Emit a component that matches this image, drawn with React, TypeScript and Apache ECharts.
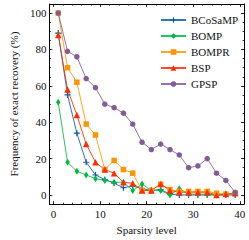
import React, { useEffect, useRef } from "react";
import * as echarts from "echarts";

const sparsity = [1, 3, 5, 7, 9, 11, 13, 15, 17, 19, 21, 23, 25, 27, 29, 31, 33, 35, 37, 39];
const bcosamp = [89, 55, 34, 18, 11, 8.5, 6.5, 4, 5, 3.5, 2.5, 3, 0.5, 0, 0, 0, 0, 0, 0, 0];
const bomp = [51, 18, 13, 11, 9, 8, 7, 7, 2.5, 6, 2.5, 2.5, 0, 3.5, 0.5, 0.5, 0.5, 0, 0.5, 0.5];
const bompr = [100, 70, 62, 39, 33, 14, 19, 14, 12, 2.5, 2.5, 6, 3, 2, 2, 2, 2, 1, 0.5, 1];
const bsp = [88, 58, 44, 28, 18, 14, 12, 7, 6.5, 2.5, 2.5, 6, 2.5, 1.5, 1.5, 1.5, 1.5, 0, 0.5, 1];
const gpsp = [100, 79, 76, 64, 59, 50, 48, 45, 39, 29, 25, 28, 25, 22, 15, 16, 20, 12, 8, 1.5];

const xMajor = [0, 10, 20, 30, 40];
const xMinor = [0, 2, 4, 6, 8, 10, 12, 14, 16, 18, 20, 22, 24, 26, 28, 30, 32, 34, 36, 38, 40];
const yMajor = [0, 20, 40, 60, 80, 100];
const yMinor = [0, 5, 10, 15, 20, 25, 30, 35, 40, 45, 50, 55, 60, 65, 70, 75, 80, 85, 90, 95, 100];

const FONT = '"Liberation Serif", "DejaVu Serif", serif';
const X_MIN = -0.9, X_MAX = 40.9, Y_MIN = -5, Y_MAX = 105;
const TXT = { color: "#111", fontSize: 11, fontFamily: FONT, fontWeight: "normal" as const };

function xAxisDef(position: "top" | "bottom", ticks: number[], len: number, labels: boolean, line: boolean) {
  return {
    type: "value", position, min: X_MIN, max: X_MAX,
    splitLine: { show: false },
    axisLine: { show: line, onZero: false, lineStyle: { color: "#000", width: 1 } },
    axisTick: { show: true, inside: true, length: len, customValues: ticks, lineStyle: { color: "#000", width: 0.8 } },
    axisLabel: labels ? { show: true, customValues: xMajor, margin: 4, ...TXT } : { show: false },
    ...(labels
      ? { name: "Sparsity level", nameLocation: "middle", nameGap: 15, nameTextStyle: { ...TXT } }
      : {}),
  };
}

function yAxisDef(position: "left" | "right", ticks: number[], len: number, labels: boolean, line: boolean) {
  return {
    type: "value", position, min: Y_MIN, max: Y_MAX,
    splitLine: { show: false },
    axisLine: { show: line, onZero: false, lineStyle: { color: "#000", width: 1 } },
    axisTick: { show: true, inside: true, length: len, customValues: ticks, lineStyle: { color: "#000", width: 0.8 } },
    axisLabel: labels ? { show: true, customValues: yMajor, margin: 3, ...TXT } : { show: false },
    ...(labels
      ? { name: "Frequency of exact recovery (%)", nameLocation: "middle", nameGap: 20, nameTextStyle: { ...TXT } }
      : {}),
  };
}

function mkSeries(name: string, data: number[], color: string, symbol: string, size: any) {
  return {
    name, type: "line",
    data: sparsity.map((x, i) => [x, data[i]]),
    xAxisIndex: 0, yAxisIndex: 0,
    symbol, symbolSize: size, showSymbol: true,
    lineStyle: { color, width: 1, opacity: 0.85 },
    itemStyle: { color, opacity: 1 },
    emphasis: { disabled: true },
  };
}

export default function App() {
  const ref = useRef<HTMLDivElement>(null);
  useEffect(() => {
    if (!ref.current) return;
    const chart = echarts.init(ref.current, undefined, { renderer: "svg" });
    chart.setOption({
      animation: false,
      backgroundColor: "#fff",
      textStyle: { fontFamily: FONT, fontWeight: "normal" },
      grid: { left: 34, right: 5, top: 4, bottom: 26, containLabel: false },
      xAxis: [
        xAxisDef("bottom", xMajor, 3, true, true),
        xAxisDef("bottom", xMinor, 1.5, false, false),
        xAxisDef("top", xMajor, 3, false, true),
        xAxisDef("top", xMinor, 1.5, false, false),
      ],
      yAxis: [
        yAxisDef("left", yMajor, 3, true, true),
        yAxisDef("left", yMinor, 1.5, false, false),
        yAxisDef("right", yMajor, 3, false, true),
        yAxisDef("right", yMinor, 1.5, false, false),
      ],
      legend: {
        orient: "vertical", left: 155, top: 9,
        itemWidth: 25, itemHeight: 7, itemGap: 4,
        textStyle: { ...TXT, lineHeight: 12 },
        data: ["BCoSaMP", "BOMP", "BOMPR", "BSP", "GPSP"],
      },
      series: [
        mkSeries("BCoSaMP", bcosamp, "#0C5DA5", "path://M4,0H6V4H10V6H6V10H4V6H0V4H4Z", 6),
        mkSeries("BOMP", bomp, "#00B945", "diamond", [4.5, 7]),
        mkSeries("BOMPR", bompr, "#FF9500", "rect", 5.5),
        mkSeries("BSP", bsp, "#FF2C00", "triangle", 6.5),
        mkSeries("GPSP", gpsp, "#845B97", "circle", 5.5),
      ],
    });
    return () => chart.dispose();
  }, []);
  return (
    <div
      ref={ref}
      style={{ position: "fixed", left: 0, top: 0, width: 249, height: 240, background: "#fff" }}
    />
  );
}
